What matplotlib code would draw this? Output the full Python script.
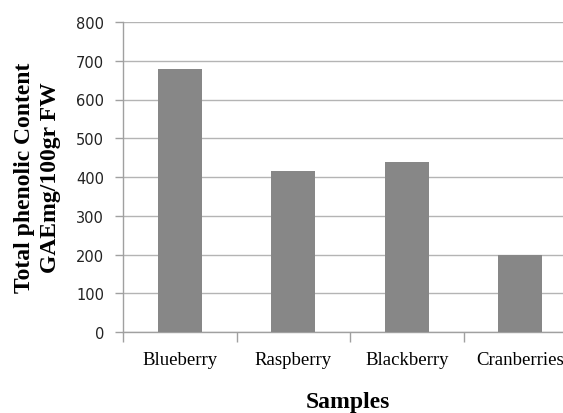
import matplotlib
matplotlib.use("Agg")
import matplotlib.pyplot as plt
import numpy as np

categories = ["Blueberry", "Raspberry", "Blackberry", "Cranberries"]
values = [678, 416, 440, 199]
yticks = [0, 100, 200, 300, 400, 500, 600, 700, 800]

fig = plt.figure(figsize=(5.63, 4.14), dpi=100)
ax = fig.add_axes([123/563, 81/414, 454/563, 310/414])

x = np.arange(len(categories))
ax.bar(x, values, width=0.39, color="#878787", zorder=3)

ax.set_xlim(-0.5, 3.5)
ax.set_ylim(0, 800)
ax.set_yticks(yticks)
ax.set_yticklabels([str(v) for v in yticks], fontfamily="DejaVu Sans", fontsize=10.5, color="#222222")
ax.yaxis.grid(True, color="#b4b4b4", linewidth=1, zorder=0)
ax.set_xticks(x)
ax.set_xticklabels(categories, fontfamily="Liberation Serif", fontsize=13.5)
ax.set_xticks(np.arange(-0.5, 4, 1), minor=True)
ax.tick_params(axis="x", which="major", length=0, pad=14)
ax.tick_params(axis="x", which="minor", length=7, color="#a0a0a0", width=1)
ax.tick_params(axis="y", length=5.5, color="#a0a0a0", width=1, pad=8)

for s in ["top", "right"]:
    ax.spines[s].set_visible(False)
for s in ["left", "bottom"]:
    ax.spines[s].set_color("#a0a0a0")
    ax.spines[s].set_linewidth(1)

ax.set_ylabel("Total phenolic Content\nGAEmg/100gr FW", fontfamily="Liberation Serif",
              fontsize=17, fontweight="bold", linespacing=1.3, labelpad=11)
fig.text(348/563, 1 - 403/414, "Samples", fontfamily="Liberation Serif", fontsize=17,
         fontweight="bold", ha="center", va="center")

fig.savefig("out.png", dpi=100)
